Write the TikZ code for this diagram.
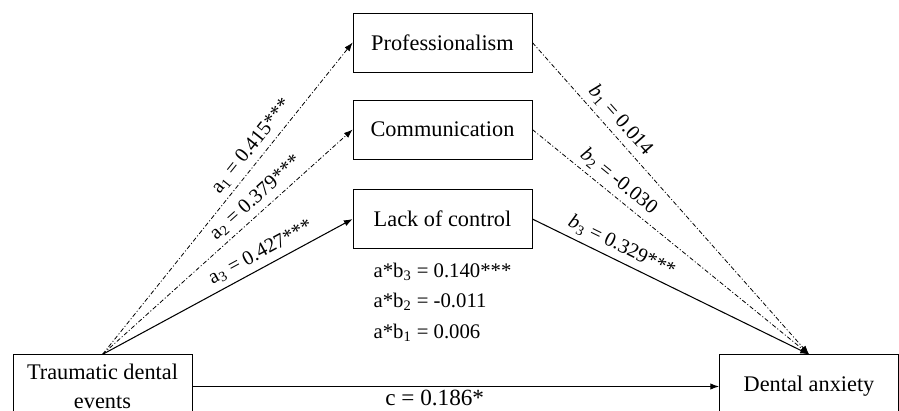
\documentclass[tikz,border=0pt]{standalone}
\usepackage{fontspec}
\setmainfont{Liberation Serif}
\usepackage{tikz}
\usetikzlibrary{arrows.meta,positioning}
\tikzset{
    var-box/.style = {draw, thin, rectangle, minimum width=3.58cm, minimum height=1.18cm, inner sep=2pt, font=\fontsize{12.7}{16.8}\selectfont, align=center},
    path-line/.style = {draw, line width=0.6pt, -{Latex[length=5pt,width=3.6pt]}},
    ns-line/.style = {path-line, line width=0.45pt, dash pattern=on 2.5pt off 1.2pt on 0.6pt off 1.2pt},
    coef-label/.style = {font=\fontsize{11.6}{17.4}\selectfont, inner sep=3pt},
    effect-label/.style = {font=\fontsize{11.8}{17.4}\selectfont, inner sep=2pt},
}

\begin{document}
\begin{tikzpicture}[x=0.02cm, y=-0.02cm]
\clip (0,0) rectangle (899,411);
% variables
\node [var-box] (prof) at (442.5,42.5) {Professionalism};
\node [var-box] (comm) at (442.5,129.5) {Communication};
\node [var-box] (lack) at (442.5,219) {Lack of control};
\node [var-box, minimum height=1.27cm] (trauma) at (102.5,386.5) {Traumatic dental\\events};
\node [var-box, minimum height=1.27cm] (anxiety) at (809,386.5) {Dental anxiety};

% a paths
\draw [ns-line] (trauma.north) -- node[coef-label, above, sloped, pos=0.64] {a\textsubscript{1} = 0.415***} (prof.west);
\draw [ns-line] (trauma.north) -- node[coef-label, above, sloped, pos=0.65] {a\textsubscript{2} = 0.379***} (comm.west);
\draw [path-line] (trauma.north) -- node[coef-label, above, sloped, pos=0.66] {a\textsubscript{3} = 0.427***} (lack.west);

% b paths
\draw [ns-line] (prof.east) -- node[coef-label, above, sloped, pos=0.28] {\textit{b}\textsubscript{1} = 0.014} (anxiety.north);
\draw [ns-line] (comm.east) -- node[coef-label, above, sloped, pos=0.28] {\textit{b}\textsubscript{2} = -0.030} (anxiety.north);
\draw [path-line] (lack.east) -- node[coef-label, above, sloped, pos=0.3] {\textit{b}\textsubscript{3} = 0.329***} (anxiety.north);

% direct path
\draw [path-line] (trauma.east) -- node[font=\fontsize{13.2}{16}\selectfont, inner sep=2pt, below, pos=0.46] {c = 0.186*} (anxiety.west);

% indirect effects
\node [effect-label, align=left, anchor=north] (indirect) at ([yshift=-0.2cm]lack.south) {a*b\textsubscript{3} = 0.140***\\a*b\textsubscript{2} = -0.011\\a*b\textsubscript{1} = 0.006};
\end{tikzpicture}
\end{document}
